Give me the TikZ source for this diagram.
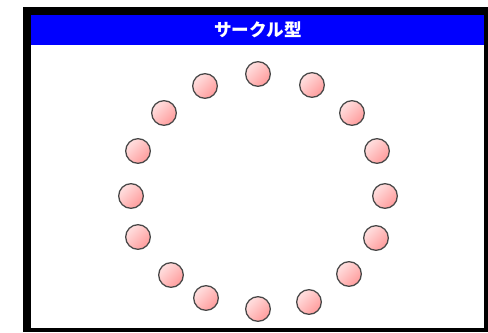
\documentclass[tikz,border=0pt]{standalone}
\usepackage{fontspec}
\newfontfamily\jpfont{Noto Sans CJK JP}
\definecolor{hdrblue}{HTML}{0000FF}
\definecolor{pinklight}{HTML}{FFE0E0}
\definecolor{pinkdark}{HTML}{FF9C9C}
\tikzset{member/.style={circle, draw=black!72, line width=1.1pt, minimum size=7.4mm, inner sep=0pt,
    top color=pinklight, bottom color=pinkdark, shading angle=45},
  hdr/.style={font=\jpfont\bfseries\fontsize{15}{15}\selectfont, text=white}}

\begin{document}
\begin{tikzpicture}[x=0.03cm, y=-0.03cm]
  \useasboundingbox (0,0) rectangle (488,332);
  % frame and header
  \fill[black] (23,7) rectangle (488,332);
  \fill[white] (31,15) rectangle (484,328);
  \fill[hdrblue] (31,15) rectangle (484,45);
  \node[hdr] (title) at (258,30) {サークル型};
  % members of the circle
  \foreach \x/\y [count=\i] in {258/74, 312/85, 352/113, 377/151, 385/196, 376/238, 349/274, 309/302,
      258/309, 206/298, 171/275, 138/237, 131/196, 138/151, 164/113, 205/86}
    \node[member] (m\i) at (\x,\y) {};
\end{tikzpicture}
\end{document}
